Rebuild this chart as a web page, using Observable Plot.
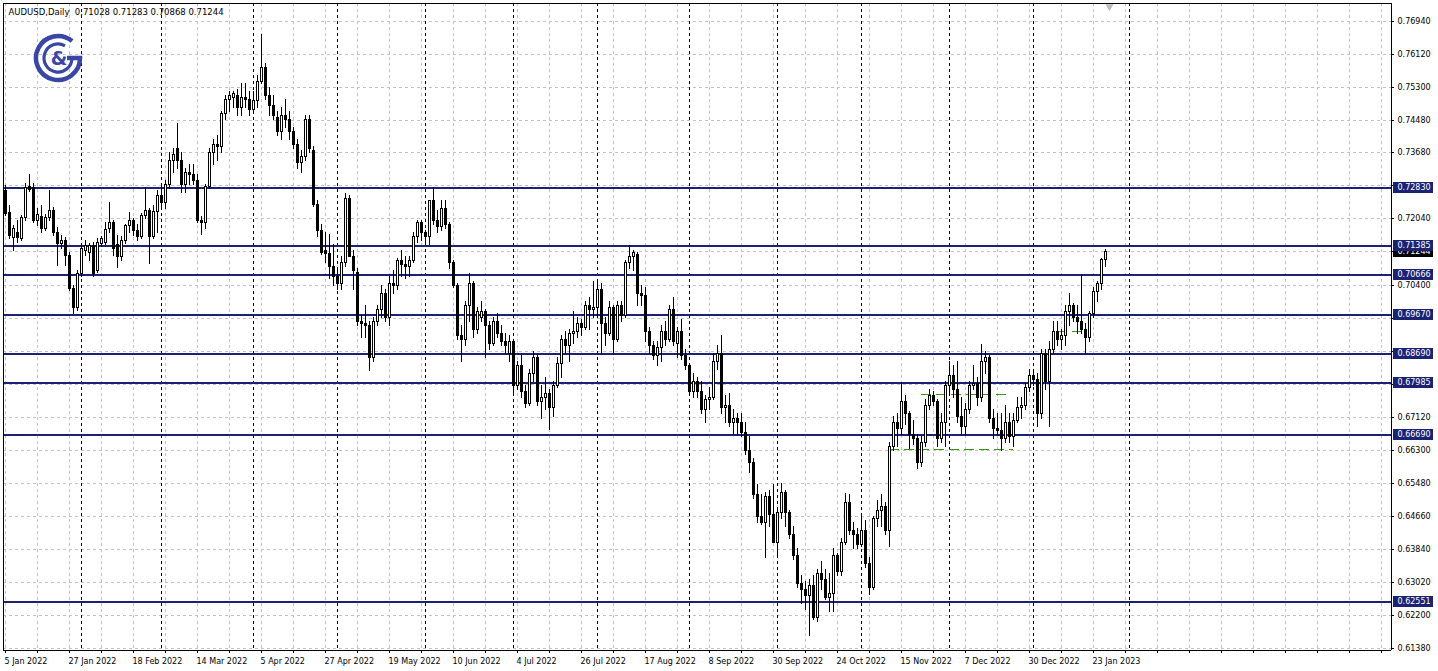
<!DOCTYPE html>
<html><head><meta charset="utf-8">
<script src="https://cdn.jsdelivr.net/npm/d3@7"></script>
<script src="https://cdn.jsdelivr.net/npm/@observablehq/plot@0.6"></script>
<style>
html,body{margin:0;padding:0;background:#fff;}
#chart{position:relative;width:1438px;height:671px;overflow:hidden;}
</style></head><body><div id="chart"></div>
<script>
const symbolTitle = "AUDUSD,Daily";
const lastQuote = ["0.71028", "0.71283", "0.70868", "0.71244"];

// Daily OHLC, one entry per bar from 5 Jan 2022 to 26 Jan 2023
const open = [
 .7275,.7220,.7158,.7170,.7156,.7208,.7285,.7282,.7200,.7210,.7180,.7208,.7225,.7170,.7143,.7151,.7113,.7032,.6984,
 .7069,.7126,.7121,.7138,.7076,.7143,.7146,.7180,.7195,.7140,.7110,.7151,.7188,.7200,.7175,.7160,.7213,.7225,.7160,.7223,
 .7262,.7245,.7290,.7350,.7380,.7350,.7290,.7320,.7315,.7300,.7200,.7195,.7285,.7370,.7390,.7385,.7465,.7500,.7505,.7510,.7480,.7505,.7500,
 .7475,.7497,.7545,.7580,.7510,.7485,.7455,.7420,.7460,.7450,.7420,.7390,.7345,.7360,.7450,.7375,.7240,.7175,.7125,.7118,.7085,
 .7060,.7045,.7095,.7255,.7110,.7070,.6950,.6945,.6940,.6860,.6950,.6980,.7020,.6960,.7045,.7040,.7100,.7090,.7085,.7100,.7160,.7195,
 .7170,.7160,.7250,.7200,.7185,.7230,.7190,.7095,.7040,.6915,.6905,.6990,.7045,.6930,.6960,.6975,.6940,.6895,.6950,.6920,.6900,.6870,
 .6900,.6790,.6840,.6775,.6745,.6820,.6860,.6750,.6760,.6770,.6735,.6790,.6845,.6905,.6890,.6920,.6925,.6945,.6935,.6990,.6980,
 .6985,.7030,.6945,.6920,.6985,.6905,.6990,.6965,.7095,.7110,.7115,.7020,.7015,.6925,.6890,.6865,.6885,.6925,.6905,.6980,.6895,.6925,.6865,
 .6840,.6775,.6800,.6775,.6730,.6755,.6760,.6850,.6870,.6735,.6740,.6700,.6710,.6700,.6675,.6630,.6600,.6520,.6465,.6450,.6515,.6470,
 .6400,.6475,.6525,.6475,.6420,.6370,.6300,.6285,.6270,.6295,.6215,.6325,.6310,.6265,.6275,.6370,.6330,.6400,.6500,.6430,.6420,
 .6395,.6430,.6350,.6290,.6460,.6480,.6490,.6430,.6640,.6700,.6685,.6750,.6720,.6670,.6660,.6600,.6650,.6740,.6765,.6750,.6660,.6700,
 .6790,.6815,.6780,.6715,.6690,.6730,.6790,.6795,.6760,.6850,.6860,.6710,.6685,.6680,.6660,.6700,.6665,.6705,.6735,.6740,.6785,
 .6815,.6805,.6720,.6870,.6800,.6880,.6925,.6905,.6915,.6975,.6990,.6960,.6950,.6930,.6910,.6970,.7025,.7045,.71028
];
const high = [
 .7287,.7237,.7188,.7200,.7213,.7292,.7314,.7292,.7230,.7237,.7215,.7275,.7233,.7183,.7163,.7158,.7121,.7039,.7076,
 .7138,.7151,.7143,.7146,.7156,.7161,.7195,.7245,.7200,.7163,.7161,.7190,.7220,.7205,.7190,.7218,.7282,.7230,.7238,.7275,
 .7290,.7300,.7370,.7380,.7441,.7370,.7330,.7340,.7340,.7315,.7210,.7290,.7380,.7400,.7410,.7470,.7510,.7520,.7520,.7525,.7540,.7540,.7520,
 .7520,.7560,.7661,.7590,.7530,.7510,.7470,.7480,.7500,.7470,.7430,.7400,.7375,.7460,.7460,.7385,.7250,.7190,.7170,.7165,.7140,
 .7080,.7110,.7266,.7262,.7125,.7080,.6965,.6990,.6950,.6960,.6990,.7040,.7030,.7060,.7075,.7105,.7125,.7110,.7110,.7170,.7200,.7200,
 .7175,.7250,.7283,.7225,.7250,.7250,.7195,.7100,.7045,.6940,.7000,.7069,.7050,.6985,.7000,.6980,.6950,.6960,.6970,.6940,.6920,.6915,
 .6905,.6850,.6870,.6790,.6830,.6875,.6865,.6790,.6810,.6780,.6800,.6860,.6915,.6925,.6930,.6975,.6960,.6955,.7000,.7010,.7050,
 .7050,.7045,.6960,.7000,.6990,.7000,.7000,.7100,.7137,.7125,.7120,.7040,.7035,.6935,.6900,.6900,.6940,.6950,.6990,.7010,.6935,.6955,.6880,
 .6845,.6820,.6810,.6800,.6765,.6785,.6870,.6890,.6916,.6765,.6770,.6730,.6720,.6720,.6700,.6665,.6610,.6545,.6520,.6525,.6530,.6545,
 .6485,.6547,.6530,.6480,.6440,.6385,.6320,.6305,.6310,.6320,.6335,.6355,.6335,.6325,.6385,.6375,.6410,.6522,.6520,.6450,.6435,
 .6465,.6455,.6365,.6465,.6505,.6520,.6500,.6650,.6715,.6720,.6797,.6765,.6725,.6705,.6670,.6665,.6755,.6780,.6775,.6755,.6720,.6800,
 .6850,.6840,.6850,.6760,.6745,.6800,.6840,.6810,.6893,.6875,.6865,.6730,.6720,.6720,.6740,.6720,.6720,.6760,.6760,.6795,.6830,
 .6830,.6820,.6880,.6880,.6900,.6950,.6950,.6930,.6990,.7018,.6995,.6990,.7063,.6945,.6975,.7035,.7050,.7105,.71283
];
const low = [
 .7213,.7156,.7126,.7146,.7151,.7200,.7272,.7195,.7188,.7170,.7175,.7200,.7163,.7089,.7131,.7089,.7027,.6970,.6977,
 .7062,.7113,.7101,.7062,.7071,.7136,.7141,.7170,.7113,.7084,.7100,.7143,.7170,.7163,.7150,.7155,.7205,.7094,.7155,.7170,
 .7230,.7230,.7280,.7320,.7330,.7270,.7270,.7290,.7290,.7195,.7165,.7180,.7280,.7340,.7350,.7370,.7450,.7470,.7480,.7460,.7460,.7480,.7460,
 .7470,.7480,.7540,.7500,.7460,.7450,.7410,.7400,.7430,.7400,.7380,.7330,.7320,.7350,.7370,.7235,.7160,.7115,.7095,.7055,.7040,
 .7030,.7030,.7085,.7110,.7030,.6940,.6910,.6910,.6829,.6850,.6940,.6960,.6950,.6940,.7020,.7030,.7060,.7055,.7060,.7095,.7145,.7150,
 .7140,.7140,.7190,.7170,.7175,.7180,.7080,.7035,.6905,.6850,.6890,.6950,.6910,.6920,.6950,.6860,.6880,.6890,.6910,.6890,.6870,.6850,
 .6765,.6780,.6760,.6735,.6740,.6800,.6740,.6710,.6730,.6682,.6715,.6785,.6810,.6870,.6850,.6895,.6910,.6915,.6930,.6930,.6960,
 .6965,.6870,.6890,.6915,.6870,.6900,.6950,.6960,.7080,.7075,.6990,.6990,.6900,.6870,.6855,.6840,.6850,.6890,.6900,.6890,.6860,.6855,.6830,
 .6770,.6760,.6760,.6720,.6700,.6730,.6755,.6830,.6720,.6700,.6690,.6670,.6670,.6665,.6620,.6575,.6510,.6450,.6445,.6363,.6440,.6400,
 .6365,.6460,.6440,.6410,.6360,.6290,.6250,.6235,.6170,.6210,.6205,.6285,.6260,.6230,.6230,.6320,.6320,.6395,.6420,.6385,.6385,
 .6390,.6340,.6272,.6285,.6440,.6440,.6420,.6390,.6630,.6640,.6670,.6695,.6635,.6645,.6585,.6590,.6640,.6730,.6740,.6640,.6650,.6640,
 .6770,.6760,.6700,.6670,.6670,.6720,.6780,.6740,.6750,.6820,.6700,.6660,.6670,.6630,.6650,.6650,.6640,.6700,.6710,.6730,.6775,
 .6790,.6690,.6710,.6780,.6690,.6870,.6890,.6880,.6890,.6940,.6950,.6920,.6920,.6870,.6900,.6960,.7000,.7030,.70868
];
const close = [
 .7218,.7163,.7180,.7158,.7208,.7282,.7277,.7200,.7215,.7180,.7208,.7225,.7170,.7143,.7151,.7113,.7032,.6984,.7069,
 .7131,.7138,.7138,.7069,.7146,.7156,.7178,.7195,.7131,.7110,.7151,.7188,.7200,.7175,.7160,.7213,.7225,.7160,.7223,.7262,
 .7245,.7290,.7350,.7365,.7350,.7290,.7320,.7315,.7300,.7200,.7195,.7285,.7370,.7390,.7385,.7465,.7500,.7510,.7515,.7480,.7505,.7500,.7475,
 .7497,.7545,.7580,.7510,.7485,.7460,.7420,.7460,.7450,.7420,.7390,.7345,.7360,.7450,.7380,.7240,.7175,.7120,.7118,.7085,.7060,
 .7045,.7095,.7255,.7110,.7075,.6950,.6945,.6940,.6860,.6950,.6980,.7020,.6960,.7045,.7040,.7100,.7090,.7085,.7100,.7160,.7195,.7170,
 .7160,.7250,.7200,.7185,.7230,.7190,.7095,.7040,.6915,.6905,.6990,.7045,.6930,.6975,.6975,.6940,.6895,.6950,.6920,.6900,.6890,.6900,
 .6790,.6840,.6775,.6745,.6820,.6860,.6750,.6760,.6770,.6735,.6790,.6845,.6905,.6890,.6920,.6925,.6945,.6935,.6990,.6980,.6985,
 .7030,.6945,.6920,.6985,.6905,.6990,.6965,.7095,.7110,.7120,.7020,.7015,.6925,.6890,.6865,.6885,.6925,.6905,.6980,.6900,.6925,.6865,.6840,
 .6775,.6800,.6775,.6730,.6755,.6760,.6850,.6870,.6735,.6740,.6700,.6710,.6700,.6675,.6630,.6600,.6520,.6465,.6450,.6515,.6470,.6400,
 .6475,.6525,.6475,.6420,.6370,.6300,.6285,.6270,.6295,.6215,.6325,.6310,.6265,.6275,.6370,.6330,.6400,.6500,.6430,.6420,.6395,
 .6430,.6350,.6290,.6460,.6480,.6490,.6430,.6640,.6700,.6685,.6750,.6720,.6670,.6660,.6600,.6650,.6740,.6765,.6750,.6660,.6700,.6790,
 .6815,.6780,.6715,.6690,.6730,.6790,.6795,.6760,.6850,.6860,.6710,.6685,.6680,.6660,.6700,.6665,.6705,.6735,.6740,.6785,.6815,
 .6805,.6720,.6870,.6800,.6880,.6925,.6905,.6915,.6975,.6990,.6960,.6950,.6930,.6910,.6970,.7025,.7045,.7103,.71244
];

// horizontal support / resistance levels (navy) and current price
const levels = [0.72830, 0.71385, 0.70666, 0.69670, 0.68690, 0.67985, 0.66690, 0.62551];
const currentPrice = 0.71244;
// green dashed range lines: price, first bar, last bar
const rangePrices = [0.6768, 0.6631, 0.6925];
const rangeFrom = [229, 221, 263];
const rangeTo = [251, 252, 270];

// price grid ticks, and the tick labels that stay visible beside the level tags
const priceTicks = [0.76940,0.76120,0.75300,0.74480,0.73680,0.72860,0.72040,0.71220,0.70400,0.69580,
                    0.68760,0.67940,0.67120,0.66300,0.65480,0.64660,0.63840,0.63020,0.62200,0.61380];
const priceLabels = [0.76940,0.76120,0.75300,0.74480,0.73680,0.72040,0.70400,
                     0.67120,0.66300,0.65480,0.64660,0.63840,0.63020,0.62200,0.61380];
// date axis labels (bar number, label)
const dateTickBars = [0,16,32,48,64,80,96,112,128,144,160,176,192,208,224,240,256,272];
const dateTickLabels = ["5 Jan 2022","27 Jan 2022","18 Feb 2022","14 Mar 2022","5 Apr 2022","27 Apr 2022",
  "19 May 2022","10 Jun 2022","4 Jul 2022","26 Jul 2022","17 Aug 2022","8 Sep 2022","30 Sep 2022",
  "24 Oct 2022","15 Nov 2022","7 Dec 2022","30 Dec 2022","23 Jan 2023"];
// first bar of each month (period separators)
const monthStartBars = [19,39,62,83,105,127,148,171,193,214,236,257,281];
const shiftMarkerBar = [276];

// ---------- build ----------
const bars = open.map((o, i) => ({i, o, h: high[i], l: low[i], c: close[i]}));
const upBars = bars.filter(d => d.c > d.o);
const ranges = rangePrices.map((p, k) => ({p, a: rangeFrom[k], b: rangeTo[k]}));
const dateTicks = dateTickBars.map((b, k) => ({b, t: dateTickLabels[k]}));
const gridBars = d3.range(0, 346, 8);

const xDom = [-0.5, 346.5];
const yDom = [0.613307, 0.773867];
const navy = "#1c2273";
const grid = "#c3c3c3";
const f5 = d3.format(".5f");
const font = "DejaVu Sans";
const crisp = "crispEdges";

const chart = Plot.plot({
  width: 1438, height: 671,
  marginLeft: 3, marginRight: 47, marginTop: 3, marginBottom: 21,
  x: {domain: xDom, axis: null, round: true},
  y: {domain: yDom, axis: null, round: true},
  style: {fontFamily: font, fontSize: "8px", background: "#fff", color: "#000"},
  marks: [
    Plot.ruleY(priceTicks, {stroke: grid, strokeDasharray: "3,3", shapeRendering: crisp}),
    Plot.ruleX(gridBars, {stroke: grid, strokeDasharray: "3,3", shapeRendering: crisp}),
    Plot.ruleX(monthStartBars, {stroke: "#000", strokeDasharray: "3,3", shapeRendering: crisp}),
    Plot.ruleY(levels, {stroke: navy, strokeWidth: 2, shapeRendering: crisp}),
    Plot.ruleY(ranges, {y: "p", x1: "a", x2: "b", stroke: "#3d9410", strokeDasharray: "10,5", shapeRendering: crisp}),
    // candles: wick, body (black 3px), hollow interior for rising bars
    Plot.rect(bars, {x1: "i", x2: "i", y1: "l", y2: "h", insetRight: -1, insetBottom: -1, fill: "#000", shapeRendering: crisp}),
    Plot.rect(bars, {x1: "i", x2: "i", y1: "o", y2: "c", insetLeft: -1, insetRight: -2, insetBottom: -1, fill: "#000", shapeRendering: crisp}),
    Plot.rect(upBars, {x1: "i", x2: "i", y1: "o", y2: "c", insetTop: 1, insetRight: -1, fill: "#fff", shapeRendering: crisp}),
    // frame lines
    Plot.ruleX([xDom[0]], {stroke: "#000", shapeRendering: crisp}),
    Plot.ruleX([xDom[1]], {stroke: "#000", shapeRendering: crisp}),
    Plot.ruleY([yDom[0]], {stroke: "#000", shapeRendering: crisp}),
    Plot.ruleY([yDom[1]], {stroke: "#000", shapeRendering: crisp}),
    Plot.dot(shiftMarkerBar, {x: d => d, y: yDom[1], dy: 3, symbol: "triangle", rotate: 180, r: 3, fill: "#bdbdbd"}),
    // price axis
    Plot.ruleY(priceTicks, {x1: xDom[1], x2: xDom[1] + 0.75, stroke: "#000", shapeRendering: crisp}),
    Plot.text(priceLabels, {y: d => d, x: xDom[1], text: d => f5(d), dx: 6, textAnchor: "start", fill: "#000"}),
    Plot.rect([currentPrice], {y1: d => d, y2: d => d, x1: xDom[1], x2: xDom[1], insetLeft: 2, insetRight: -42, insetTop: -5, insetBottom: -6, fill: "#000"}),
    Plot.text([currentPrice], {y: d => d, x: xDom[1], text: d => f5(d), dx: 6, textAnchor: "start", fill: "#fff"}),
    Plot.rect(levels, {y1: d => d, y2: d => d, x1: xDom[1], x2: xDom[1], insetLeft: 2, insetRight: -42, insetTop: -5, insetBottom: -6, fill: navy}),
    Plot.text(levels, {y: d => d, x: xDom[1], text: d => f5(d), dx: 6, textAnchor: "start", fill: "#fff"}),
    // date axis
    Plot.ruleX(gridBars, {y1: yDom[0], y2: yDom[0] - 0.0008, stroke: "#000", shapeRendering: crisp}),
    Plot.text(dateTicks, {x: "b", y: yDom[0], text: "t", dy: 11, dx: -1, textAnchor: "start", fill: "#000"}),
    // header
    Plot.text([symbolTitle + "  " + lastQuote.join(" ")], {frameAnchor: "top-left", dx: 5, dy: 9, lineAnchor: "middle", textAnchor: "start", fill: "#000", fontSize: 8.5})
  ]
});
document.getElementById("chart").appendChild(chart);

// logo (decoration)
const svg = d3.select(chart);
const lg = svg.append("g").attr("transform", "translate(58,58)");
const blue = "#3a46a6";
lg.append("path").attr("d", "M14.1,-16.9 A22,22 0 1 0 22,0 L9,0").attr("fill", "none").attr("stroke", blue).attr("stroke-width", 4.5);
lg.append("path").attr("d", "M7,-12.1 A14,14 0 1 0 14,0").attr("fill", "none").attr("stroke", blue).attr("stroke-width", 3.2);
lg.append("text").attr("x", 1).attr("y", 7).attr("text-anchor", "middle").attr("font-family", font).attr("font-weight", "bold").attr("font-size", 19).attr("fill", blue).text("&");
</script>
</body></html>
